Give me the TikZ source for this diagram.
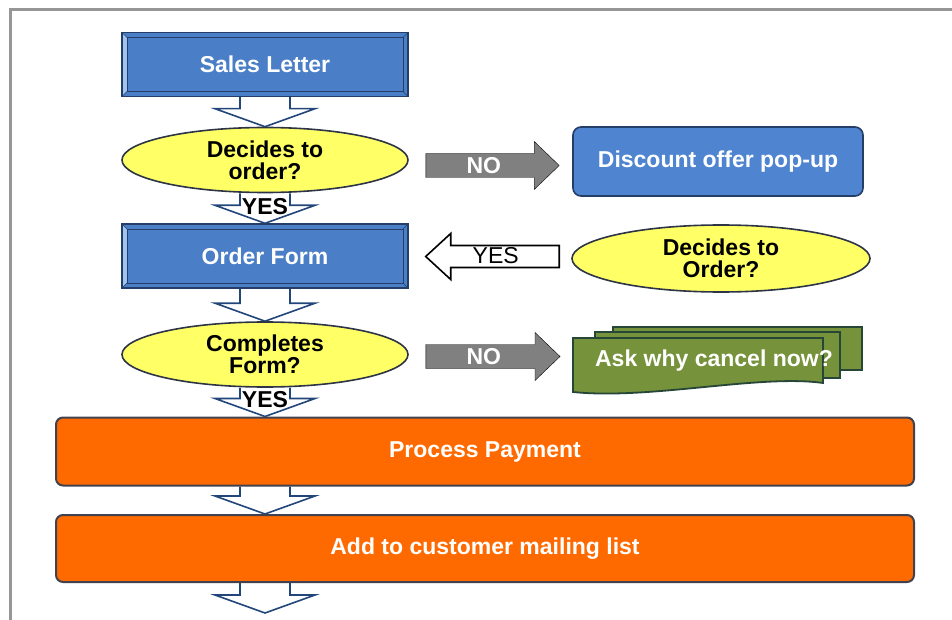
\documentclass[tikz,border=0pt]{standalone}
\usepackage{fontspec}
\setmainfont{Liberation Sans}
\usetikzlibrary{shapes.geometric,calc,backgrounds}

\definecolor{boxblue}{RGB}{74,126,198}
\definecolor{popblue}{RGB}{78,132,208}
\definecolor{edgeblue}{RGB}{36,62,104}
\definecolor{bevellight}{RGB}{160,196,240}
\definecolor{arrowblue}{RGB}{34,70,122}
\definecolor{ellyellow}{RGB}{255,255,102}
\definecolor{elledge}{RGB}{44,52,70}
\definecolor{payorange}{RGB}{255,106,0}
\definecolor{payedge}{RGB}{66,66,78}
\definecolor{askgreen}{RGB}{118,146,58}
\definecolor{askedge}{RGB}{38,70,56}
\definecolor{nogray}{RGB}{128,128,128}
\definecolor{framegray}{RGB}{150,150,150}

\begin{document}
\begin{tikzpicture}[x=1pt,y=-1pt,
    txt/.style={font=\fontsize{23}{22}\selectfont\bfseries},
    bevel/.style={path picture={
        \coordinate (bb1) at (path picture bounding box.south west);
        \coordinate (bb2) at (path picture bounding box.north east);
        \fill[bevellight] (bb1) -- ++(5pt,5pt) -- ($(bb1 |- bb2)+(5pt,-5pt)$) -- (bb1 |- bb2) -- cycle;
        \draw[edgeblue, line width=.8pt] ($(bb1)+(5pt,5pt)$) rectangle ($(bb2)+(-5pt,-5pt)$);
        \draw[edgeblue, line width=.6pt] (bb1) -- ++(5pt,5pt) (bb2) -- ++(-5pt,-5pt)
            (bb1 |- bb2) -- ++(5pt,-5pt) (bb2 |- bb1) -- ++(-5pt,5pt);}},
    bluebox/.style={txt, text=white, fill=boxblue, draw=edgeblue, line width=1.4pt,
        minimum width=286pt, minimum height=64pt, inner sep=0pt, bevel},
    popbox/.style={txt, text=white, fill=popblue, draw=edgeblue, line width=1.6pt,
        rounded corners=8pt, minimum width=290pt, minimum height=69pt, inner sep=0pt},
    decide/.style={ellipse, txt, align=center, fill=ellyellow, draw=elledge, line width=1.6pt,
        minimum width=286pt, minimum height=65pt, inner sep=0pt},
    paybox/.style={txt, text=white, fill=payorange, draw=payedge, line width=2pt,
        rounded corners=7pt, minimum width=858pt, minimum height=68pt, inner sep=0pt},
    sheet/.style={fill=askgreen, draw=askedge, line width=1.8pt},
    asktext/.style={txt, text=white, inner sep=0pt},
    notext/.style={txt, text=white, inner sep=0pt},
    yestext/.style={font=\fontsize{23}{22}\selectfont, inner sep=0pt},
    yesdown/.style={txt, inner sep=0pt},
    downarrow/.style={draw=arrowblue, fill=white, line width=1.6pt,
        to path={let \p1=(\tikztostart), \p2=(\tikztotarget) in
            (\x1-25pt,\y1) -- (\x1-25pt,\y2+18pt) -- (\x1-50pt,\y2+18pt) -- (\x1,\y2)
            -- (\x1+50pt,\y2+18pt) -- (\x1+25pt,\y2+18pt) -- (\x1+25pt,\y1)}},
    noarrow/.style={fill=nogray,
        to path={let \p1=(\tikztostart), \p2=(\tikztotarget) in
            (\x1,\y1+12pt) -- (\x2-25pt,\y1+12pt) -- (\x2-25pt,\y1+24pt) -- (\x2,\y1)
            -- (\x2-25pt,\y1-24pt) -- (\x2-25pt,\y1-12pt) -- (\x1,\y1-12pt) -- cycle}},
    yesarrow/.style={draw=black, fill=white, line width=1.6pt,
        to path={let \p1=(\tikztostart), \p2=(\tikztotarget) in
            (\x1,\y1+11pt) -- (\x2+25pt,\y1+11pt) -- (\x2+25pt,\y1+23pt) -- (\x2,\y1)
            -- (\x2+25pt,\y1-23pt) -- (\x2+25pt,\y1-11pt) -- (\x1,\y1-11pt) -- cycle}}
  ]
\useasboundingbox (0,0) rectangle (952,620);
\draw[framegray, line width=3pt] (10.5,620) -- (10.5,9.5) -- (952,9.5);

% main column
\node[bluebox] (sales) at (265,64.5) {Sales Letter};
\node[decide] (dec1) at (265,160) {Decides to\\order?};
\node[bluebox] (form) at (265,256) {Order Form};
\node[decide] (dec2) at (265,354.5) {Completes\\Form?};
\node[paybox] (pay) at (485,451.5) {Process Payment};
\node[paybox, minimum height=67pt] (mail) at (485,548.5) {Add to customer mailing list};
\coordinate (out) at (265,613);

% right column
\node[popbox] (pop) at (718,161.5) {Discount offer pop-up};
\node[decide, minimum width=298pt, minimum height=67pt] (dec3) at (721,258.5) {Decides to\\Order?};
\node[asktext] (ask) at (714,361) {Ask why cancel now?};
\coordinate (askin) at (560,356.5);

\begin{scope}[on background layer]
    % stacked sheets behind the question
    \draw[sheet] (613,327) rectangle (862,370);
    \draw[sheet] (595,332) rectangle (840,378);
    \draw[sheet] (573,338) -- (823,338) -- (823,383)
        .. controls (760,374) and (650,400) .. (573,392) -- cycle;

    \draw[downarrow] (sales.south) to (dec1.north);
    \draw[downarrow] (dec1.south) to (form.north);
    \draw[downarrow] (form.south) to (dec2.north);
    \draw[downarrow] (dec2.south) to (dec2.south |- pay.north);
    \draw[downarrow] (dec2.south |- pay.south) to (dec2.south |- mail.north);
    \draw[downarrow] (dec2.south |- mail.south) to (out);
    \node[yesdown] at ($(dec1.south)+(0,13)$) {YES};
    \node[yesdown] at ($(dec2.south)+(0,12)$) {YES};

    \draw[noarrow] ($(dec1.east)+(17,5.5)$) to ($(pop.west)+(-13,4)$);
    \node[notext] at ($(dec1.east)+(75,5.5)$) {NO};
    \draw[yesarrow] ($(dec3.west)+(-12,-2)$) to ($(form.east)+(17,0)$);
    \node[yestext] at ($(form.east)+(87,0)$) {YES};
    \draw[noarrow] ($(dec2.east)+(17,2)$) to (askin);
    \node[notext] at ($(dec2.east)+(75,2)$) {NO};
\end{scope}
\end{tikzpicture}
\end{document}
